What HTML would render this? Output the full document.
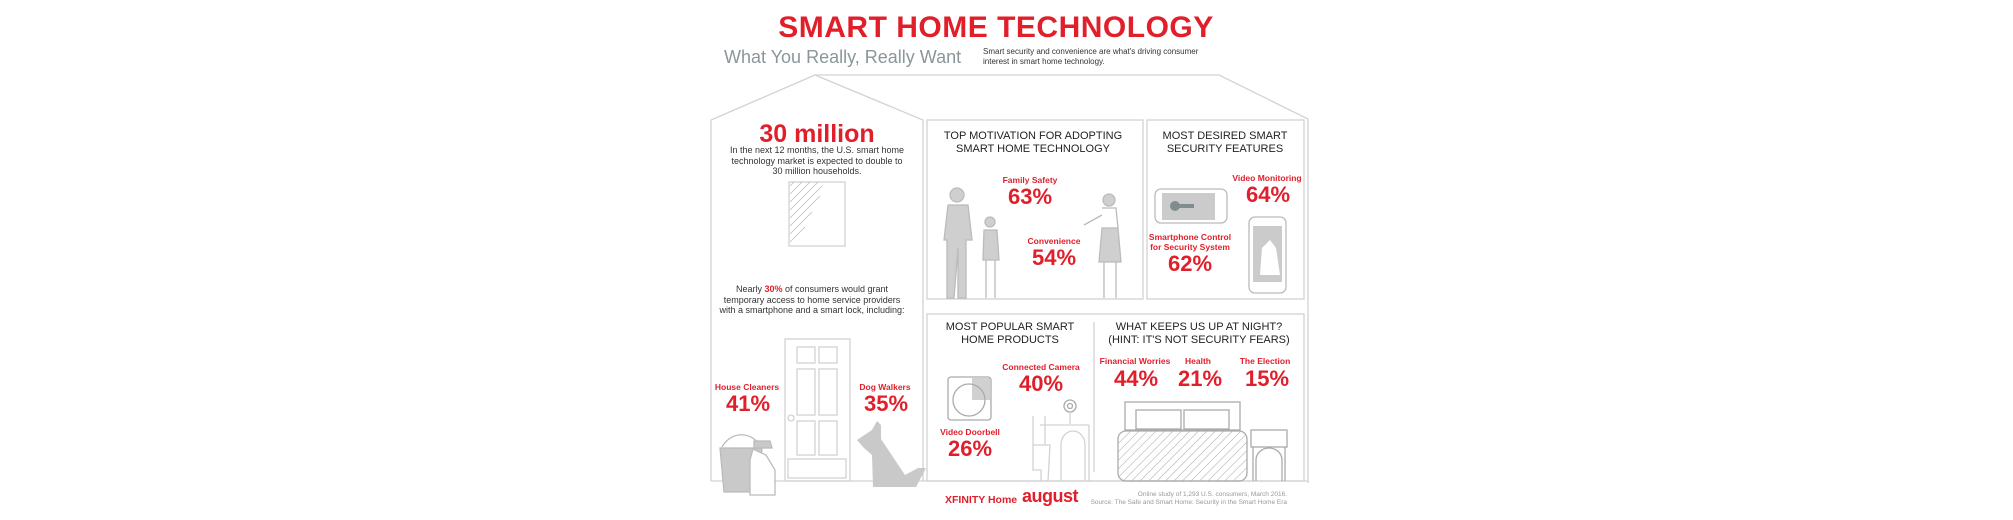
<!DOCTYPE html>
<html><head><meta charset="utf-8"><style>
body{margin:0;width:2013px;height:520px;background:#fff;position:relative;overflow:hidden;font-family:"Liberation Sans",sans-serif}
.t{position:absolute;white-space:nowrap;text-align:center;transform:translateX(-50%)}
.r{color:#e01f2b;font-weight:bold}
.k{color:#333;font-size:9px;line-height:10.5px}
.h{color:#222;font-size:11px;line-height:12.5px}
.lb{font-size:8.5px}
.pc{font-size:22px;line-height:24px}
</style></head><body>
<svg width="2013" height="520" style="position:absolute;left:0;top:0" fill="none" stroke="#d2d2d2" stroke-width="1.3">
<polyline points="711,481 711,120 815,75 923,120 923,481"/>
<polyline points="815,75 1219,75 1308,119 1308,483"/>
<line x1="711" y1="481" x2="1308" y2="481"/>
<rect x="927" y="120" width="216" height="179"/>
<rect x="1147" y="120" width="157" height="179"/>
<rect x="927" y="314" width="377" height="167"/>
<line x1="1094" y1="322" x2="1094" y2="472"/>
<rect x="789" y="182" width="56" height="64"/>
<g stroke="#bbb" stroke-width="0.8"><line x1="790" y1="186" x2="794" y2="182"/><line x1="790" y1="194" x2="802" y2="182"/><line x1="790" y1="202" x2="810" y2="182"/><line x1="790" y1="210" x2="818" y2="182"/><line x1="790" y1="218" x2="822" y2="186"/><line x1="790" y1="226" x2="820" y2="196"/><line x1="790" y1="234" x2="812" y2="212"/><line x1="790" y1="242" x2="805" y2="227"/></g>
<rect x="785" y="339" width="65" height="142"/>
<rect x="797" y="347" width="18" height="16"/><rect x="819" y="347" width="18" height="16"/>
<rect x="797" y="369" width="18" height="46"/><rect x="819" y="369" width="18" height="46"/>
<rect x="797" y="421" width="18" height="34"/><rect x="819" y="421" width="18" height="34"/>
<rect x="788" y="459" width="58" height="19"/><circle cx="791" cy="418" r="3"/>
<path d="M722,447 A23,26 0 0 1 761,447" stroke="#bbb"/>
<path d="M720,448 H762 L758,492 H724 Z" fill="#c9c9c9" stroke="#bbb"/>
<path d="M753,449 L750,460 V495 H775 V470 L766,455 Z" fill="#fff" stroke="#bbb"/>
<path d="M754,441 H770 L772,448 H754 Z" fill="#c9c9c9" stroke="#bbb"/>
<path d="M872,430 L877,421 L881,425 L881,439 L895,460 L905,475 L918,468 L926,468 L916,487 L873,487 L872,455 L864,448 L857,440 Z" fill="#c9c9c9" stroke="none"/>
<g fill="#cfcfcf" stroke="#bbb"><circle cx="957" cy="195" r="7"/><path d="M948,205 H968 L972,240 H966 V298 H958 V248 L954,298 H947 L947,240 H944 Z"/><circle cx="990" cy="222" r="5"/><path d="M984,230 H997 L999,260 H983 Z"/><circle cx="1109" cy="200" r="6"/><path d="M1102,228 H1118 L1121,262 H1099 Z"/></g>
<g stroke="#bbb"><path d="M986,260 V298 M995,260 V298 M1104,262 V298 M1116,262 V298 M1102,208 H1116 L1118,228 M1102,215 L1084,225"/></g>
<rect x="1155" y="189" width="72" height="34" rx="6" stroke="#bbb"/>
<rect x="1162" y="193" width="53" height="27" fill="#cbcbcb" stroke="none"/>
<circle cx="1175" cy="206" r="5" fill="#7f8c90" stroke="none"/><rect x="1178" y="204" width="16" height="4" fill="#7f8c90" stroke="none"/>
<rect x="1249" y="217" width="37" height="76" rx="6" stroke="#bbb"/>
<rect x="1253" y="226" width="29" height="56" fill="#cbcbcb" stroke="none"/>
<path d="M1260,275 L1262,248 L1270,240 L1276,248 L1280,275 Z" fill="#fff" stroke="none"/>
<rect x="948" y="377" width="43" height="43" rx="3" stroke="#aaa"/>
<path d="M972,378 H990 V400 H972 Z" fill="#d0d0d0" stroke="none"/>
<circle cx="969" cy="400" r="16" stroke="#aaa"/>
<circle cx="1070" cy="406" r="6" stroke="#aaa"/><circle cx="1070" cy="406" r="2.5" stroke="#aaa"/>
<path d="M1070,412 V424 M1040,425 H1089 M1089,425 V481 M1061,481 V445 A12,14 0 0 1 1085,445 V481 M1033,416 V470 L1041,470 V481 M1033,445 H1050 L1048,481 M1045,416 V445"/>
<rect x="1125" y="402" width="115" height="28" stroke="#aaa"/>
<rect x="1136" y="410" width="45" height="19" stroke="#aaa"/><rect x="1184" y="410" width="45" height="19" stroke="#aaa"/>
<defs><pattern id="hp" width="6" height="6" patternUnits="userSpaceOnUse" patternTransform="rotate(45)"><line x1="0" y1="0" x2="0" y2="6" stroke="#aaa" stroke-width="1"/></pattern></defs>
<rect x="1118" y="431" width="129" height="50" rx="8" fill="url(#hp)" stroke="#aaa"/>
<rect x="1251" y="430" width="36" height="17" stroke="#aaa"/>
<path d="M1256,481 V460 A13,12 0 0 1 1282,460 V481 M1253,447 V481 M1285,447 V481" stroke="#aaa"/>
</svg>

<div class="t r" style="left:996px;top:11px;font-size:30px;line-height:34px;letter-spacing:0.5px">SMART HOME TECHNOLOGY</div>
<div style="position:absolute;left:724px;top:47px;font-size:18px;color:#8a969a">What You Really, Really Want</div>
<div style="position:absolute;left:983px;top:47px;font-size:8px;line-height:10px;color:#333">Smart security and convenience are what's driving consumer<br>interest in smart home technology.</div>

<div class="t r" style="left:817px;top:121px;font-size:25px;line-height:26px">30 million</div>
<div class="t k" style="left:817px;top:145px">In the next 12 months, the U.S. smart home<br>technology market is expected to double to<br>30 million households.</div>
<div class="t k" style="left:812px;top:284px">Nearly <span class="r">30%</span> of consumers would grant<br>temporary access to home service providers<br>with a smartphone and a smart lock, including:</div>
<div class="t r lb" style="left:747px;top:382px">House Cleaners</div>
<div class="t r pc" style="left:748px;top:392px">41%</div>
<div class="t r lb" style="left:885px;top:382px">Dog Walkers</div>
<div class="t r pc" style="left:886px;top:392px">35%</div>

<div class="t h" style="left:1033px;top:130px">TOP MOTIVATION FOR ADOPTING<br>SMART HOME TECHNOLOGY</div>
<div class="t r lb" style="left:1030px;top:175px">Family Safety</div>
<div class="t r pc" style="left:1030px;top:185px">63%</div>
<div class="t r lb" style="left:1054px;top:236px">Convenience</div>
<div class="t r pc" style="left:1054px;top:246px">54%</div>

<div class="t h" style="left:1225px;top:130px">MOST DESIRED SMART<br>SECURITY FEATURES</div>
<div class="t r lb" style="left:1267px;top:173px">Video Monitoring</div>
<div class="t r pc" style="left:1268px;top:183px">64%</div>
<div class="t r lb" style="left:1190px;top:232px;line-height:10px">Smartphone Control<br>for Security System</div>
<div class="t r pc" style="left:1190px;top:252px">62%</div>

<div class="t h" style="left:1010px;top:321px">MOST POPULAR SMART<br>HOME PRODUCTS</div>
<div class="t r lb" style="left:1041px;top:362px">Connected Camera</div>
<div class="t r pc" style="left:1041px;top:372px">40%</div>
<div class="t r lb" style="left:970px;top:427px">Video Doorbell</div>
<div class="t r pc" style="left:970px;top:437px">26%</div>

<div class="t h" style="left:1199px;top:321px">WHAT KEEPS US UP AT NIGHT?<br>(HINT: IT'S NOT SECURITY FEARS)</div>
<div class="t r lb" style="left:1135px;top:356px">Financial Worries</div>
<div class="t r pc" style="left:1136px;top:367px">44%</div>
<div class="t r lb" style="left:1198px;top:356px">Health</div>
<div class="t r pc" style="left:1200px;top:367px">21%</div>
<div class="t r lb" style="left:1265px;top:356px">The Election</div>
<div class="t r pc" style="left:1267px;top:367px">15%</div>

<div style="position:absolute;left:945px;top:494px;font-size:10.5px" class="r">XFINITY Home</div>
<div style="position:absolute;left:1022px;top:486px;font-size:18px;color:#e01f2b;font-weight:bold;letter-spacing:-0.5px">august</div>
<div style="position:absolute;right:726px;top:491px;font-size:6.5px;line-height:8px;color:#999;text-align:right">Online study of 1,293 U.S. consumers, March 2016.<br>Source: The Safe and Smart Home: Security in the Smart Home Era</div>
</body></html>
